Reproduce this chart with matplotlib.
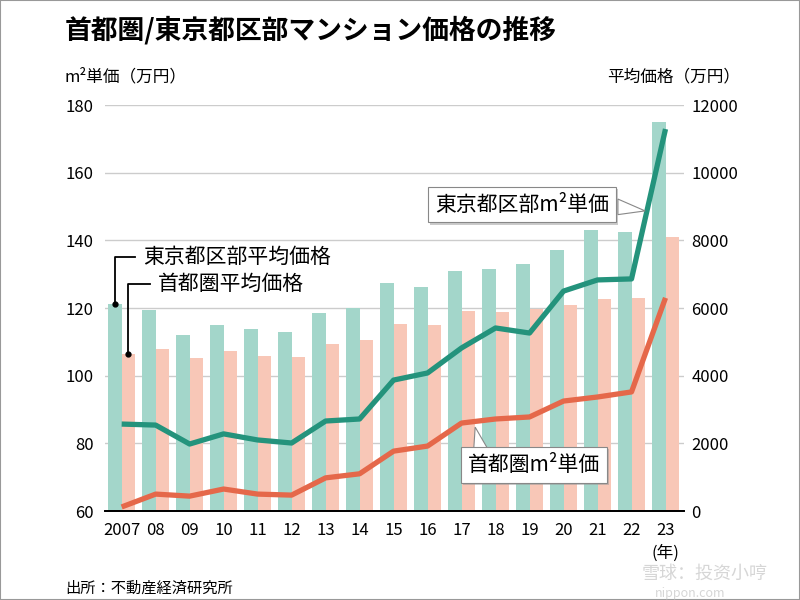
import matplotlib.pyplot as plt
import matplotlib.patheffects as pe
from matplotlib.patches import Polygon, Rectangle

plt.rcParams['font.family'] = ['Noto Sans CJK JP', 'DejaVu Sans']

# data
years = ['2007', '08', '09', '10', '11', '12', '13', '14', '15',
         '16', '17', '18', '19', '20', '21', '22', '23']
tokyo_avg = [6120, 5932, 5190, 5497, 5386, 5283, 5853, 6009, 6732,
             6629, 7089, 7142, 7286, 7712, 8293, 8236, 11483]
capital_avg = [4644, 4775, 4535, 4716, 4578, 4540, 4929, 5060, 5518,
               5490, 5908, 5871, 5980, 6083, 6260, 6288, 8101]
tokyo_m2 = [85.7, 85.4, 79.8, 82.8, 81.0, 80.1, 86.6, 87.2, 98.7,
            100.8, 108.2, 114.1, 112.6, 125.0, 128.3, 128.6, 172.9]
capital_m2 = [61.2, 65.0, 64.4, 66.5, 65.0, 64.7, 69.8, 71.0, 77.7,
              79.2, 86.0, 87.2, 87.8, 92.5, 93.7, 95.2, 123.0]

TEAL_BAR = '#a3d6ca'
SALMON_BAR = '#f8c7b7'
TEAL_LINE = '#24937c'
SALMON_LINE = '#e5684a'

fig = plt.figure(figsize=(8, 6), dpi=100)
ax = fig.add_axes([0.13125, 0.1483, 0.724, 0.6767])
axr = ax.twinx()
ax.set_zorder(axr.get_zorder() + 1)
ax.patch.set_visible(False)

x = list(range(len(years)))
w = 0.39
axr.bar([i - w / 2 for i in x], tokyo_avg, width=w, color=TEAL_BAR, zorder=2)
axr.bar([i + w / 2 for i in x], capital_avg, width=w, color=SALMON_BAR, zorder=2)
axr.set_ylim(0, 12000)
axr.set_yticks(range(0, 12001, 2000))
axr.yaxis.grid(True, color='#cccccc', linewidth=1)
axr.set_axisbelow(True)

ax.plot(x, tokyo_m2, color=TEAL_LINE, lw=3.8, solid_capstyle='butt', zorder=3)
ax.plot(x, capital_m2, color=SALMON_LINE, lw=3.8, solid_capstyle='butt', zorder=3)
ax.set_ylim(60, 180)
ax.set_yticks(range(60, 181, 20))
ax.set_xlim(-0.49, 16.55)
ax.set_xticks(x)
ax.set_xticklabels(years)

for a in (ax, axr):
    for s in ('top', 'left', 'right'):
        a.spines[s].set_visible(False)
    a.spines['bottom'].set_color('black')
    a.spines['bottom'].set_linewidth(1.3)
ax.tick_params(axis='y', length=0, pad=8, labelsize=12)
axr.tick_params(axis='y', length=0, pad=5, labelsize=12)
ax.tick_params(axis='x', length=0, pad=8, labelsize=12)

# year unit
ax.text(16, 47.6, '(年)', ha='center', va='center', fontsize=12, clip_on=False)

# legend leaders for bars
for xi, top, yl, xe, label in [(-w / 2, tokyo_avg[0], 7508, 0.4, '東京都区部平均価格'),
                                (w / 2, capital_avg[0], 6710, 0.84, '首都圏平均価格')]:
    axr.plot([xi, xi, xe], [top, yl, yl], color='black', lw=1.3, zorder=4)
    axr.plot([xi], [top], 'o', color='black', ms=3.5, zorder=4)
    axr.text(xe + 0.22, yl, label, ha='left', va='center', fontsize=15, zorder=4)

# callouts
shadow = [pe.withSimplePatchShadow(offset=(1.5, -1.5), shadow_rgbFace='#999999', alpha=0.5)]

def callout(tx, ty, label, tail):
    poly = Polygon(tail, closed=True, facecolor='white', edgecolor='#888888', lw=0.8, zorder=5)
    ax.add_patch(poly)
    t = ax.text(tx, ty, label, ha='center', va='center', fontsize=15, zorder=6,
                bbox=dict(boxstyle='square,pad=0.32', fc='white', ec='#888888', lw=0.8))
    t.get_bbox_patch().set_path_effects(shadow)

callout(11.78, 150.5, '東京都区部m²単価',
        [(14.6, 152.2), (15.4, 148.7), (14.6, 147.6)])
callout(12.13, 73.6, '首都圏m²単価',
        [(10.35, 77.0), (10.4, 84.8), (10.85, 77.0)])

# titles
fig.text(65 / 800, 1 - 30 / 600, '首都圏/東京都区部マンション価格の推移',
         fontsize=19.3, fontweight='bold', ha='left', va='center')
fig.text(65 / 800, 1 - 77 / 600, 'm²単価（万円）', fontsize=12, ha='left', va='center')
fig.text(740 / 800, 1 - 77 / 600, '平均価格（万円）', fontsize=12, ha='right', va='center')
fig.text(65 / 800, 1 - 588 / 600, '出所：不動産経済研究所', fontsize=11, ha='left', va='center')

# watermark
fig.text(705 / 800, 1 - 574 / 600, '雪球：投资小哼', fontsize=13, color='#bbbbbb', alpha=0.6,
         ha='center', va='center', family=['Noto Sans CJK SC', 'DejaVu Sans'])
fig.text(690 / 800, 1 - 593 / 600, 'nippon.com', fontsize=9, color='#bbbbbb', alpha=0.6,
         ha='center', va='center')

fig.add_artist(Rectangle((0, 0), 1, 1, transform=fig.transFigure, fill=False,
                         edgecolor='#999999', lw=1.5))

fig.savefig('out.png', dpi=100)
